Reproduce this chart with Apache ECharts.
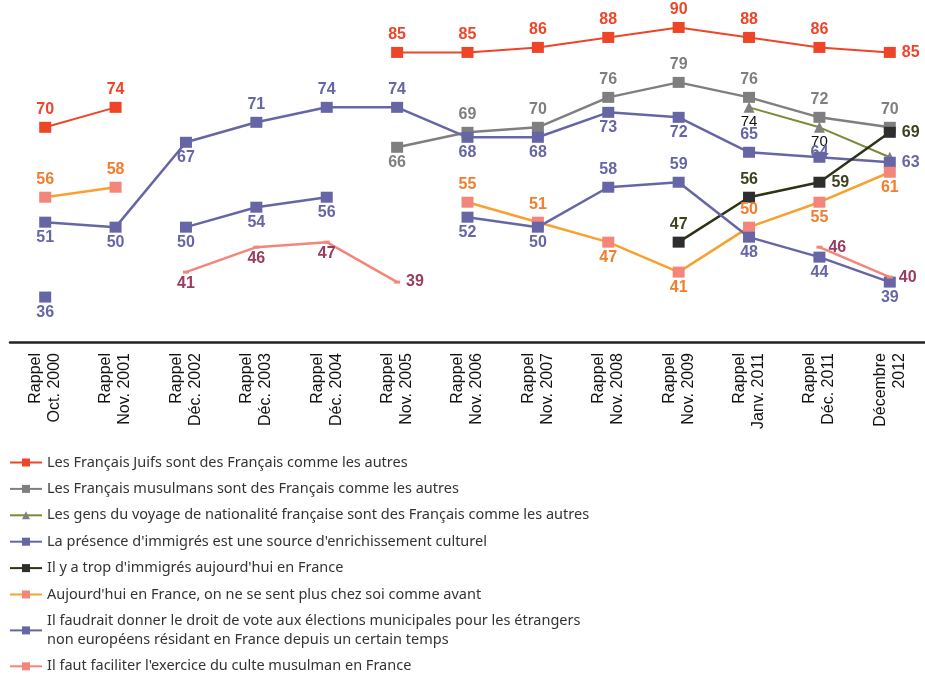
<!DOCTYPE html>
<html>
<head>
<meta charset="utf-8">
<script src="https://cdn.jsdelivr.net/npm/echarts@6/dist/echarts.min.js"></script>
<style>
  html, body { margin: 0; padding: 0; background: #fff; }
  #chart { width: 925px; height: 678px; }
</style>
</head>
<body>
<div id="chart"></div>
<script>
const categories = ['Rappel\nOct. 2000', 'Rappel\nNov. 2001', 'Rappel\nDéc. 2002', 'Rappel\nDéc. 2003',
  'Rappel\nDéc. 2004', 'Rappel\nNov. 2005', 'Rappel\nNov. 2006', 'Rappel\nNov. 2007', 'Rappel\nNov. 2008',
  'Rappel\nNov. 2009', 'Rappel\nJanv. 2011', 'Rappel\nDéc. 2011', 'Décembre\n2012'];

const juifs = [70, 74, null, null, null, 85, 85, 86, 88, 90, 88, 86, 85];
const musulmans = [null, null, null, null, null, 66, 69, 70, 76, 79, 76, 72, 70];
const voyage = [null, null, null, null, null, null, null, null, null, null, 74, 70, 64];
const enrichissement = [51, 50, 67, 71, 74, 74, 68, 68, 73, 72, 65, 64, 63];
const tropImmigres = [null, null, null, null, null, null, null, null, null, 47, 56, 59, 69];
const chezSoi = [56, 58, null, null, null, null, 55, 51, 47, 41, 50, 55, 61];
const droitVote = [36, null, 50, 54, 56, null, 52, 50, 58, 59, 48, 44, 39];
const culte = [null, null, 41, 46, 47, 39, null, null, null, null, null, 46, 40];

// where each value label sits: t = above, b = below, r = right, tt = just above, '' = hidden
const juifsPos = ['t', 't', '', '', '', 't', 't', 't', 't', 't', 't', 't', 'r'];
const musulmansPos = ['', '', '', '', '', 'b', 't', 't', 't', 't', 't', 't', 't'];
const voyagePos = ['', '', '', '', '', '', '', '', '', '', 'b', 'b', ''];
const enrichPos = ['b', 'b', 'b', 't', 't', 't', 'b', 'b', 'b', 'b', 't', 'tt', 'r'];
const tropPos = ['', '', '', '', '', '', '', '', '', 't', 't', 'r', 'r'];
const chezPos = ['t', 't', '', '', '', '', 't', 't', 'b', 'b', 't', 'b', 'b'];
const droitPos = ['b', '', 'b', 'b', 'b', '', 'b', 'b', 't', 't', 'b', 'b', 'b'];
const cultePos = ['', '', 'b', 'b', 'b', 'r', '', '', '', '', '', 'r', 'r'];

function labelFor(p) {
  if (p === 't') return { position: 'top', distance: 4 };
  if (p === 'b') return { position: 'bottom', distance: 2 };
  if (p === 'r') return { position: 'right', distance: 6 };
  if (p === 'tt') return { position: 'top', distance: -9 };
  return { show: false };
}

function points(values, pos) {
  return values.map((v, i) => v == null ? null : { value: v, label: labelFor(pos[i]) });
}

function line(name, values, pos, lineColor, markColor, labelColor, extra) {
  return Object.assign({
    name: name,
    type: 'line',
    data: points(values, pos),
    symbol: 'rect',
    symbolSize: [12, 11],
    showAllSymbol: true,
    connectNulls: false,
    lineStyle: { color: lineColor, width: 2.5 },
    itemStyle: { color: markColor },
    label: {
      show: true,
      color: labelColor,
      fontFamily: 'Liberation Sans',
      fontWeight: 'bold',
      fontSize: 16
    },
    emphasis: { disabled: true }
  }, extra || {});
}

const chart = echarts.init(document.getElementById('chart'));
chart.setOption({
  animation: false,
  grid: { left: 10, right: -3, top: 0, bottom: 336 },
  legend: {
    orient: 'vertical',
    left: 9,
    top: 453,
    height: 225,
    padding: 0,
    itemWidth: 32,
    itemHeight: 10,
    itemGap: 7.4,
    textStyle: { fontFamily: 'Noto Sans', fontSize: 14.5, color: '#333', lineHeight: 19 }
  },
  xAxis: {
    type: 'category',
    data: categories,
    boundaryGap: true,
    axisLine: { lineStyle: { color: '#222', width: 2.5 } },
    axisTick: { length: 5, lineStyle: { color: '#222', width: 1.5 } },
    axisLabel: {
      rotate: 90,
      interval: 0,
      margin: 11,
      fontFamily: 'Liberation Sans',
      fontSize: 16,
      lineHeight: 19,
      color: '#111'
    }
  },
  yAxis: { type: 'value', min: 27, max: 95.5, show: false },
  series: [
    line('Les Français Juifs sont des Français comme les autres', juifs, juifsPos,
      '#ee4528', '#ee4528', '#ee4528', { lineStyle: { color: '#ee4528', width: 2 } }),
    line('Les Français musulmans sont des Français comme les autres', musulmans, musulmansPos,
      '#7f7f82', '#7f7f82', '#7f7f82'),
    line('Les gens du voyage de nationalité française sont des Français comme les autres', voyage, voyagePos,
      '#7a8a35', '#808082', '#111', {
        symbol: 'triangle',
        symbolSize: 11,
        lineStyle: { color: '#7a8a35', width: 2 },
        label: { show: true, color: '#111', fontFamily: 'Liberation Sans', fontSize: 15 }
      }),
    line('La présence d\'immigrés est une source d\'enrichissement culturel', enrichissement, enrichPos,
      '#6666a6', '#6666a6', '#6666a6'),
    line('Il y a trop d\'immigrés aujourd\'hui en France', tropImmigres, tropPos,
      '#2d3315', '#2e2e2e', '#3a4220'),
    line('Aujourd\'hui en France, on ne se sent plus chez soi comme avant', chezSoi, chezPos,
      '#f8a030', '#f4857a', '#f27d2c'),
    line('Il faudrait donner le droit de vote aux élections municipales pour les étrangers\nnon européens résidant en France depuis un certain temps', droitVote, droitPos,
      '#6666a6', '#6666a6', '#6666a6'),
    line('Il faut faciliter l\'exercice du culte musulman en France', culte, cultePos,
      '#f4857a', '#f4857a', '#9b3b5f', { symbolSize: [6, 3] })
  ]
});
</script>
</body>
</html>
